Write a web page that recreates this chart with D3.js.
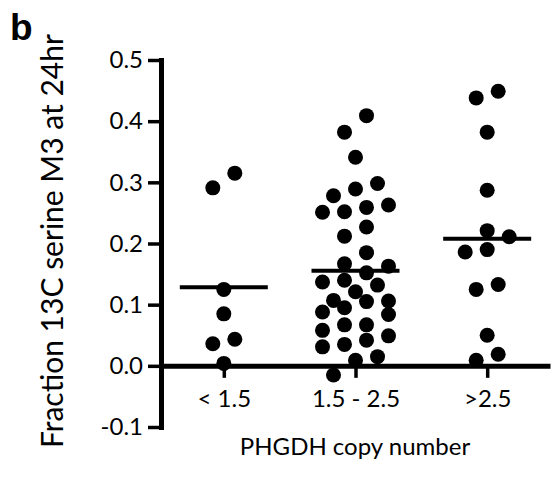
<!DOCTYPE html>
<html>
<head>
<meta charset="utf-8">
<script src="https://cdn.jsdelivr.net/npm/d3@7"></script>
<style>
  body { margin: 0; background: #fff; }
  svg text { font-family: Lato, "Open Sans", sans-serif; fill: #000; }
</style>
</head>
<body>
<svg id="chart" width="553" height="479"></svg>
<script>
// values
var categories = ["< 1.5", "1.5 - 2.5", ">2.5"];
var lowCopy = [0.315, 0.291, 0.125, 0.085, 0.0435, 0.036, 0.004];
var midCopy = [0.409, 0.382, 0.341, 0.298, 0.289, 0.278, 0.263, 0.259, 0.252, 0.251,
  0.227, 0.212, 0.185, 0.167, 0.163, 0.152, 0.140, 0.137, 0.132, 0.121,
  0.107, 0.106, 0.105, 0.095, 0.088, 0.084, 0.067, 0.067, 0.058, 0.049,
  0.042, 0.035, 0.031, 0.015, 0.009, -0.015];
var highCopy = [0.449, 0.438, 0.382, 0.287, 0.221, 0.211, 0.190, 0.186, 0.133, 0.125,
  0.050, 0.019, 0.009];
var yTicks = [-0.1, 0, 0.1, 0.2, 0.3, 0.4, 0.5];

var groups = [lowCopy, midCopy, highCopy];

var svg = d3.select("#chart");
var axisX = 161, right = 550;
var dotR = 7.5, slot = 22, rowSpan = 0.03, maxPerRow = 4;

var y = d3.scaleLinear().domain([-0.1, 0.5]).range([427, 60]);
var x = d3.scalePoint().domain(categories).range([axisX, right]).padding(0.477);

// panel letter
svg.append("text")
  .attr("x", 10).attr("y", 40)
  .style("font-family", "'Liberation Sans', Arial, sans-serif")
  .style("font-weight", "bold")
  .style("font-size", "37px")
  .text("b");

// y axis
var yAxis = svg.append("g")
  .attr("transform", "translate(" + axisX + ",0)")
  .call(d3.axisLeft(y).tickValues(yTicks).tickSize(13).tickSizeOuter(0).tickPadding(5)
    .tickFormat(function (d) { return d.toFixed(1); }));
yAxis.select(".domain").attr("stroke-width", 5).attr("stroke-linecap", "square");
yAxis.selectAll(".tick line").attr("stroke-width", 3.5);
yAxis.selectAll(".tick text").style("font-size", "24px");

// x axis along zero
var xAxis = svg.append("g")
  .attr("transform", "translate(0," + y(0) + ")")
  .call(d3.axisBottom(x).tickSize(12).tickSizeOuter(0).tickPadding(12));
xAxis.select(".domain").attr("stroke-width", 5);
xAxis.selectAll(".tick line").attr("stroke-width", 3.5);
xAxis.selectAll(".tick text").style("font-size", "24px");

// titles
svg.append("text")
  .attr("transform", "translate(63," + 241 + ") rotate(-90)")
  .attr("text-anchor", "middle")
  .style("font-size", "30px")
  .text("Fraction 13C serine M3 at 24hr");

svg.append("text")
  .attr("x", 355).attr("y", 455)
  .attr("text-anchor", "middle")
  .style("font-size", "24px")
  .text("PHGDH copy number");

// column scatter: bin values into rows, spread each row around the centre
function layout(values) {
  var sorted = values.slice().sort(d3.ascending);
  var rows = [], cur = null;
  sorted.forEach(function (v) {
    if (!cur || v - cur[0] > rowSpan || cur.length >= maxPerRow) {
      cur = [];
      rows.push(cur);
    }
    cur.push(v);
  });
  var pts = [];
  rows.forEach(function (row) {
    row.forEach(function (v, i) {
      pts.push({ value: v, offset: (i - (row.length - 1) / 2) * slot });
    });
  });
  return pts;
}

groups.forEach(function (vals, gi) {
  var cx = x(categories[gi]);
  var g = svg.append("g");
  g.selectAll("circle")
    .data(layout(vals))
    .enter()
    .append("circle")
    .attr("cx", function (d) { return cx + d.offset; })
    .attr("cy", function (d) { return y(d.value); })
    .attr("r", dotR)
    .attr("fill", "#000");

  var m = d3.mean(vals);
  g.append("line")
    .attr("x1", cx - 44).attr("x2", cx + 44)
    .attr("y1", y(m)).attr("y2", y(m))
    .attr("stroke", "#000")
    .attr("stroke-width", 4);
});
</script>
</body>
</html>
